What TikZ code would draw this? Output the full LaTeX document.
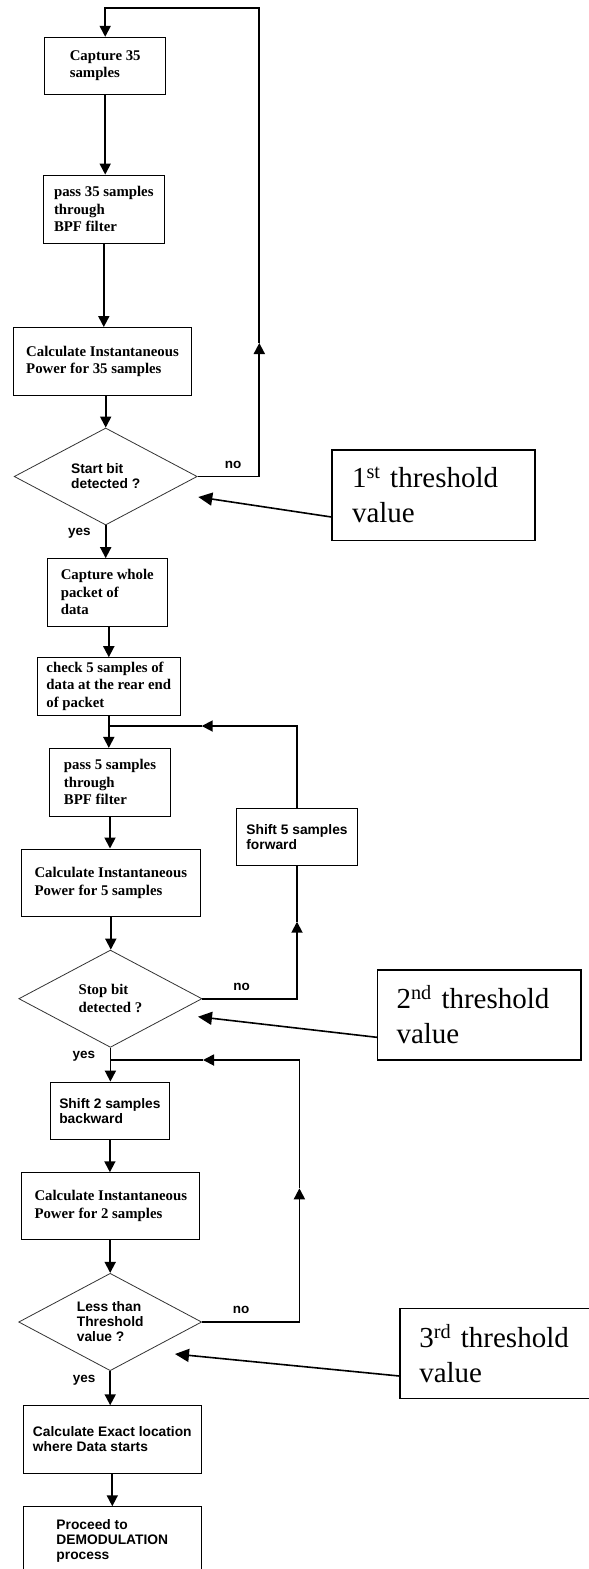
\documentclass[tikz,border=0pt]{standalone}
\usepackage{fontspec}
\setmainfont{Liberation Serif}
\setsansfont{Liberation Sans}
\usetikzlibrary{shapes.geometric,arrows.meta,calc}

% type faces used in the flow chart
\newcommand\flowserif{\fontsize{14.8}{17.5}\selectfont\rmfamily\bfseries}
\newcommand\flowsans{\fontsize{13.8}{15}\selectfont\sffamily\bfseries}
\newcommand\threshfont{\fontsize{29}{35}\selectfont\rmfamily}
\newcommand\lblfont{\fontsize{13.5}{15}\selectfont\sffamily\bfseries}

\tikzset{
  box/.style={draw, rectangle, line width=0.9pt, inner sep=0pt, align=left, font=\flowserif},
  sbox/.style={box, font=\flowsans},
  dec/.style={diamond, draw=black!80, line width=0.8pt, inner sep=0pt, aspect=1.9, align=left},
  thr/.style={draw, rectangle, line width=1.2pt, inner ysep=0pt, align=left, font=\threshfont},
  conn/.style={line width=1.8pt},
  flowtip/.tip={Triangle[length=11pt,width=11pt]},
  thrtip/.tip={Triangle[length=14pt,width=13pt]},
  tarrow/.style={line width=1.6pt, -thrtip},
  lbl/.style={anchor=base, inner sep=0pt, font=\lblfont},
}

\begin{document}
\begin{tikzpicture}[x=1pt, y=-1pt]
  \fill[white] (0,0) rectangle (589,1569);
  \useasboundingbox (0,0) rectangle (589,1569);

  % ---- first stage: look for the start bit
  \node[box, minimum width=121pt, minimum height=57pt] (b1) at (105.2,65.8) {Capture 35\\samples};
  \node[box, minimum width=121pt, minimum height=68.3pt] (b2) at (103.8,209.2) {pass 35 samples\\through\\BPF filter};
  \node[box, minimum width=178.3pt, minimum height=67.8pt] (b3) at (102.5,361.4) {Calculate Instantaneous\\Power for 35 samples};
  \node[dec, minimum width=183pt, minimum height=97pt, font=\flowsans] (d1) at (105.7,476.5) {Start bit\\detected ?};

  % ---- second stage: look for the stop bit
  \node[box, minimum width=120.7pt, minimum height=67.3pt] (b4) at (107.3,592.3) {Capture whole\\packet of\\data};
  \node[box, minimum width=142.3pt, minimum height=57.3pt] (b5) at (108.8,686.3) {check 5 samples of\\data at the rear end\\of packet};
  \node[box, minimum width=121.4pt, minimum height=67.7pt] (b6) at (110,782.2) {pass 5 samples\\through\\BPF filter};
  \node[sbox, minimum width=121pt, minimum height=56.7pt] (s5) at (297,836.7) {Shift 5 samples\\forward};
  \node[box, minimum width=178.8pt, minimum height=67.7pt] (b7) at (110.8,882.8) {Calculate Instantaneous\\Power for 5 samples};
  \node[dec, minimum width=183.2pt, minimum height=97.3pt, font=\flowserif] (d2) at (110.4,998.7) {Stop bit\\detected ?};

  % ---- third stage: locate the start of the data
  \node[sbox, minimum width=119.8pt, minimum height=57.3pt] (s2) at (109.9,1110.7) {Shift 2 samples\\backward};
  \node[box, minimum width=178pt, minimum height=66.6pt] (b9) at (110.8,1206) {Calculate Instantaneous\\Power for 2 samples};
  \node[dec, minimum width=183pt, minimum height=97.4pt, font=\flowsans] (d3) at (110.2,1322) {Less than\\Threshold\\value ?};
  \node[sbox, minimum width=178pt, minimum height=67.6pt] (b10) at (112.3,1439.5) {Calculate Exact location\\where Data starts};
  \node[sbox, minimum width=178pt, minimum height=67.6pt] (b11) at (112.3,1540.5) {Proceed to\\DEMODULATION\\process};

  % ---- threshold notes
  \node[thr, minimum width=203pt, minimum height=90.7pt, inner xsep=20pt, text width=163pt] (t1) at (433.5,495.3) {1\textsuperscript{st} threshold\\value};
  \node[thr, minimum width=203.5pt, minimum height=90pt, inner xsep=19pt, text width=165.5pt] (t2) at (479.3,1015) {2\textsuperscript{nd} threshold\\value};
  \node[thr, minimum width=203pt, minimum height=90pt, inner xsep=19.3pt, text width=164.4pt] (t3) at (501.5,1353.3) {3\textsuperscript{rd} threshold\\value};

  % ---- straight flow
  \draw[conn, -flowtip] (b1.south) -- (b1.south |- b2.north);
  \draw[conn, -flowtip] (b2.south) -- (b2.south |- b3.north);
  \draw[conn, -flowtip] (d1.north |- b3.south) -- (d1.north);
  \draw[conn, -flowtip] (d1.south) -- (d1.south |- b4.north);
  \draw[conn, -flowtip] (b4.south -| b5.north) -- (b5.north);
  \draw[conn, -flowtip] (b5.south) -- (b5.south |- b6.north);
  \draw[conn, -flowtip] (b6.south) -- (b6.south |- b7.north);
  \draw[conn, -flowtip] (b7.south) -- (b7.south |- d2.north);
  \draw[conn, -flowtip] (d2.south) -- (d2.south |- s2.north);
  \draw[conn, -flowtip] (s2.south) -- (s2.south |- b9.north);
  \draw[conn, -flowtip] (d3.north |- b9.south) -- (d3.north);
  \draw[conn, -flowtip] (d3.south) -- (d3.south |- b10.north);
  \draw[conn, -flowtip] (b10.south) -- (b10.south |- b11.north);

  % ---- loop back when no start bit is found
  \coordinate (r1up) at (259.3,343);
  \coordinate (r1top) at (259.3,8);
  \draw[conn, -flowtip] (d1.east) -- (d1.east -| r1up) -- (r1up);
  \draw[conn, -flowtip] (r1up) -- (r1top) -- (r1top -| b1.north) -- (b1.north);

  % ---- loop through "Shift 5 samples forward"
  \coordinate (r2up) at (297,921.7);
  \coordinate (m1a) at (201.7,726);
  \draw[conn, -flowtip] (d2.east) -- (d2.east -| s5.south) -- (r2up);
  \draw[conn] (r2up) -- (s5.south);
  \draw[conn, -flowtip] (s5.north) -- (s5.north |- m1a) -- (m1a);
  \draw[conn] (m1a) -- (b5.south |- m1a);

  % ---- loop back to "Shift 2 samples backward"
  \coordinate (r3up) at (299.4,1188.3);
  \coordinate (r3top) at (299.4,1060);
  \coordinate (m2a) at (203,1060);
  \draw[conn, -flowtip] (d3.east) -- (d3.east -| r3up) -- (r3up);
  \draw[conn, -flowtip] (r3up) -- (r3top) -- (m2a);
  \draw[conn] (m2a) -- (d2.south |- m2a);

  % ---- threshold pointers
  \coordinate (p1) at (198.3,497);
  \coordinate (p2) at (198,1016.7);
  \coordinate (p3) at (175,1354);
  \draw[tarrow] ($(t1.west)+(0,21.7)$) -- (p1);
  \draw[tarrow] ($(t2.west)+(0,22.3)$) -- (p2);
  \draw[tarrow] ($(t3.west)+(0,22.7)$) -- (p3);

  % ---- branch labels
  \node[lbl] (no1) at (233,468) {no};
  \node[lbl] (no2) at (241.5,990.7) {no};
  \node[lbl] (no3) at (241,1313.7) {no};
  \node[lbl] (yes1) at (79.3,535) {yes};
  \node[lbl] (yes2) at (83.8,1058.7) {yes};
  \node[lbl] (yes3) at (84.2,1382.3) {yes};
\end{tikzpicture}
\end{document}
